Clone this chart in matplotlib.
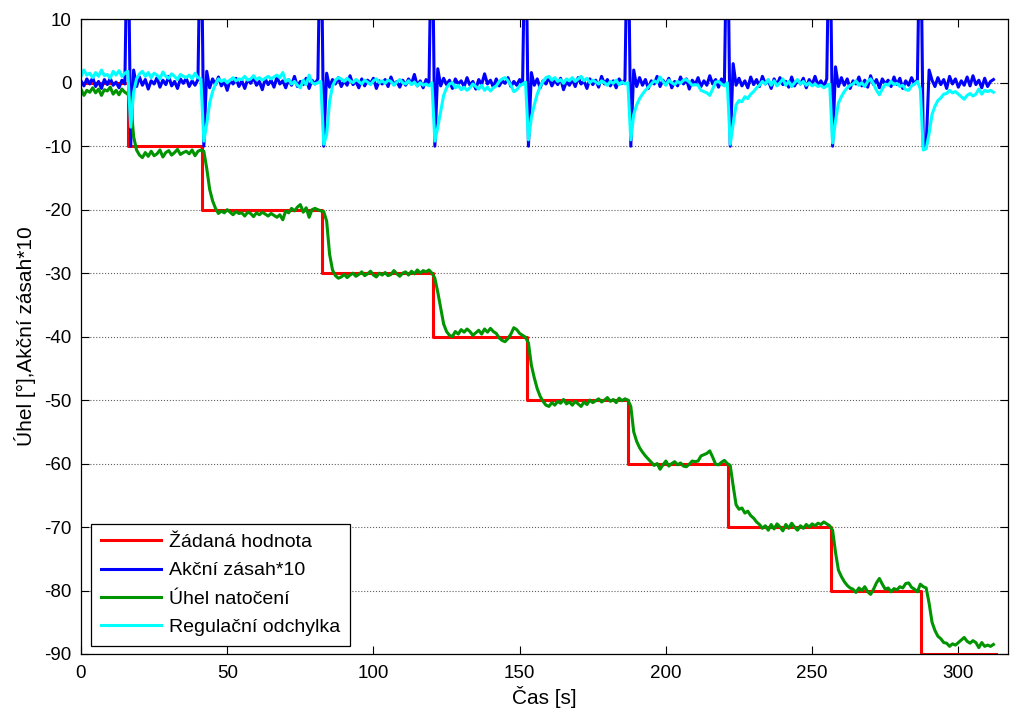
import numpy as np
import matplotlib.pyplot as plt

plt.rcParams['font.family'] = ['Liberation Sans', 'DejaVu Sans']
plt.rcParams['axes.unicode_minus'] = False

# setpoint steps (time [s], level [deg])
step_t = [0, 16.2, 41.5, 82.4, 120.3, 152.6, 187.1, 221.4, 256.5, 287.1, 312.8]
step_val = [0, -10, -20, -30, -40, -50, -60, -70, -80, -90, -90]

# measured angle, 1 s samples from t = 0
angle = [
    -1.0, -2.0, -1.2, -1.5, -0.8, -1.6, -1.0, -2.0, -1.1, -1.3, -0.7, -1.8, -1.2, -1.9, -1.0, -1.5, -1.8,
    -3.0, -8.5, -10.6, -11.4, -11.8, -11.0, -11.6, -10.8, -11.5, -11.2, -10.6, -11.7, -11.0, -10.7, -11.4,
    -11.0, -10.5, -11.3, -11.0, -10.8, -11.2, -10.6, -11.5, -10.8, -10.6,
    -10.8, -13.5, -16.8, -18.6, -19.8, -20.6, -20.2, -20.5, -20.0, -20.4, -20.8, -20.3, -20.6, -20.5, -21.0,
    -20.4, -20.6, -21.1, -20.5, -20.8, -20.4, -20.7, -21.0, -20.6, -20.9, -21.2, -20.8, -21.6, -20.2, -20.5,
    -19.8, -20.2, -19.6, -19.2, -20.4, -19.7, -21.2, -20.0, -19.8, -20.0, -20.2,
    -20.3, -21.8, -27.0, -29.5, -30.4, -30.8,
    -30.6, -30.2, -30.7, -30.3, -30.0, -30.5, -30.2, -29.8, -30.4, -30.1, -29.7, -30.3, -30.6, -30.0, -30.3,
    -29.9, -30.4, -30.2, -29.6, -30.1, -30.5, -30.0, -29.8, -30.3, -29.7, -30.1, -29.5, -30.0, -29.6, -29.8,
    -29.5, -30.0,
    -30.8, -33.0, -35.5, -38.0, -39.2, -39.8, -40.0, -39.2, -39.6, -38.9, -39.3, -38.8, -39.2, -39.8, -39.4,
    -39.0, -39.6, -38.8, -39.3, -38.7, -39.2, -39.5, -40.2, -40.6, -40.8, -40.3, -39.6, -38.6, -38.9, -39.5,
    -39.8, -40.1,
    -41.0, -44.5, -46.5, -48.2, -49.4, -50.2, -50.8, -51.0, -50.4, -50.8, -50.2, -50.5, -49.9, -50.6, -50.3,
    -50.8, -50.2, -50.6, -51.0, -50.3, -50.7, -50.0, -50.4, -50.1, -49.8, -50.3, -50.0, -49.6, -50.2, -49.9,
    -50.4, -49.7, -50.1, -49.8, -50.0,
    -51.0, -55.0, -56.5, -57.5, -58.2, -58.8, -59.3, -59.8, -60.3, -60.0, -60.9, -60.2, -59.6, -60.4, -60.0,
    -59.7, -60.2, -59.9, -60.4, -60.5, -60.1, -59.6, -59.7, -59.6, -58.8, -58.6, -58.4, -58.0, -59.0, -60.1,
    -60.2, -59.8, -59.5, -60.0,
    -60.3, -63.5, -66.5, -67.2, -67.0, -67.8, -67.5, -68.2, -68.6, -69.2, -69.6, -70.2, -69.8, -70.5, -69.6,
    -70.3, -69.5, -70.0, -70.6, -69.6, -70.2, -69.4, -70.0, -70.5, -69.8, -70.2, -69.6, -70.0, -69.5, -69.8,
    -69.4, -69.6, -69.2, -69.5, -69.8,
    -70.5, -74.0, -76.8, -77.8, -78.6, -79.2, -79.6, -79.8, -80.3, -79.6, -80.0, -79.4, -80.2, -80.6, -79.8,
    -78.8, -78.1, -79.0, -79.8, -79.6, -80.2, -79.7, -79.9, -79.4, -79.6, -78.9, -78.8, -79.5, -79.8, -80.2,
    -79.0,
    -79.4, -79.6, -82.0, -85.0, -86.3, -87.2, -87.6, -88.2, -88.3, -88.8, -88.4, -88.6, -88.2, -87.8, -87.4,
    -88.0, -88.3, -87.9, -88.2, -89.0, -88.2, -88.8, -88.6, -88.8, -88.5,
]

# control action * 10
action = [
    0.3, -0.5, 0.6, -0.2, 0.8, -0.6, 0.2, -0.9, 0.5, -0.3, 0.7, -0.4, 0.1, -0.8, 0.4, -0.2,
    30, -10, 2.0, -0.6,
    0.9, -0.4, 0.5, -1.0, 0.3, -0.2, 0.8, -0.7, 0.4, -0.3, 1.0, -0.5, 0.2, -0.9, 0.6, -0.1, 0.7, -0.6, 0.3,
    -0.4, 0.5,
    30, -10, 1.8, -0.8,
    0.6, -0.3, 0.9, -0.5, 0.2, -1.2, 0.4, -0.2, 0.7, -0.6, 0.3, -0.9, 0.5, -0.1, 0.8, -0.4, 0.2, -1.1, 0.6,
    -0.3, 0.4, -0.7, 0.9, -0.2, 0.3, -0.8, 0.5, -0.4, 1.0, -0.6, 0.2, -0.3, 0.7, -0.9, 0.4, -0.2, 0.6,
    30, -10, 1.5, -0.7,
    0.5, -0.2, 0.8, -0.6, 0.3, -0.4, 1.1, -0.3, 0.2, -0.8, 0.6, -0.5, 0.4, -0.1, 0.7, -0.9, 0.3, -0.2, 0.5,
    -0.6, 0.9, -0.3, 0.2, -0.7, 0.4, -0.4, 0.6, -0.2, 1.3, -0.5, 0.3, -0.8, 0.5, -0.3,
    30, -10, 2.2, -0.5,
    0.7, -0.3, 0.4, -0.9, 0.6, -0.2, 0.3, -0.6, 0.8, -0.4, 0.2, -1.0, 0.5, -0.3, 1.4, -0.2, 0.4, -0.7, 0.6,
    -0.5, 0.3, -0.1, 0.8, -0.6, 0.2, -0.4, 0.5, -0.2,
    30, -10, 1.6, -0.4,
    0.6, -0.8, 0.3, -0.2, 0.9, -0.5, 0.4, -0.3, 0.7, -1.1, 0.2, -0.4, 0.5, -0.6, 0.8, -0.2, 0.3, -0.9, 0.6,
    -0.3, 0.4, -0.7, 1.0, -0.2, 0.5, -0.5, 0.3, -0.8, 0.6, -0.1, 0.4,
    30, -10, 2.0, -0.6,
    0.8, -0.4, 0.5, -0.9, 0.3, -0.2, 1.0, -0.6, 0.4, -0.3, 0.7, -0.8, 0.2, -0.5, 0.9, -0.2, 0.6, -1.0, 0.4,
    -0.3, 0.8, -0.6, 0.3, -0.4, 1.1, -0.2, 0.5, -0.7, 0.6, -0.3,
    30, -10, 3.0, -0.4,
    0.7, -0.5, 0.3, -0.8, 0.9, -0.3, 0.5, -0.6, 1.0, -0.2, 0.4, -0.9, 0.6, -0.4, 0.8, -0.3, 0.2, -0.7, 0.9,
    -0.5, 0.4, -0.2, 0.7, -0.8, 0.5, -0.3, 1.0, -0.4, 0.3, -0.6, 0.6,
    30, -10, 2.5, -0.6,
    0.8, -0.4, 0.6, -0.9, 0.3, -0.2, 0.9, -0.5, 0.4, -0.7, 1.1, -0.3, 0.5, -0.8, 0.6, -0.2, 0.4, -0.6, 0.9,
    -0.3, 0.7, -0.9, 0.3, -0.4, 0.8, -0.2, 0.5,
    30, -10, -10, 2.0,
    0.4, -0.6, 0.8, -0.3, 0.5, -0.9, 1.0, -0.2, 0.6, -0.7, 0.3, -0.4, 0.9, -0.5, 1.1, -0.3, 0.4, -0.8, 0.7,
    -0.6, 0.2, 0.5,
]

# control error
error = [
    1.0, 2.0, 1.2, 1.5, 0.8, 1.6, 1.0, 2.0, 1.1, 1.3, 0.7, 1.8, 1.2, 1.9, 1.0, 1.5, 1.8,
    -7.0, -1.5, 0.6, 1.4, 1.8, 1.0, 1.6, 0.8, 1.5, 1.2, 0.6, 1.7, 1.0, 0.7, 1.4, 1.0, 0.5, 1.3, 1.0, 0.8,
    1.2, 0.6, 1.5, 0.8, 0.6,
    -9.2, -6.5, -3.2, -1.4, -0.2, 0.6, 0.2, 0.5, 0.0, 0.4, 0.8, 0.3, 0.6, 0.5, 1.0, 0.4, 0.6, 1.1, 0.5, 0.8,
    0.4, 0.7, 1.0, 0.6, 0.9, 1.2, 0.8, 1.6, 0.2, 0.5, -0.2, 0.2, -0.4, -0.8, 0.4, -0.3, 1.2, 0.0, -0.2, 0.0,
    0.2,
    -9.7, -8.2, -3.0, -0.5, 0.4, 0.8,
    0.6, 0.2, 0.7, 0.3, 0.0, 0.5, 0.2, -0.2, 0.4, 0.1, -0.3, 0.3, 0.6, 0.0, 0.3, -0.1, 0.4, 0.2, -0.4, 0.1,
    0.5, 0.0, -0.2, 0.3, -0.3, 0.1, -0.5, 0.0, -0.4, -0.2, -0.5, 0.0,
    -9.2, -7.0, -4.5, -2.0, -0.8, -0.2, 0.0, -0.8, -0.4, -1.1, -0.7, -1.2, -0.8, -0.2, -0.6, -1.0, -0.4,
    -1.2, -0.7, -1.3, -0.8, -0.5, 0.2, 0.6, 0.8, 0.3, -0.4, -1.4, -1.1, -0.5, -0.2, 0.1,
    -9.0, -5.5, -3.5, -1.8, -0.6, 0.2, 0.8, 1.0, 0.4, 0.8, 0.2, 0.5, -0.1, 0.6, 0.3, 0.8, 0.2, 0.6, 1.0,
    0.3, 0.7, 0.0, 0.4, 0.1, -0.2, 0.3, 0.0, -0.4, 0.2, -0.1, 0.4, -0.3, 0.1, -0.2, 0.0,
    -9.0, -5.0, -3.5, -2.5, -1.8, -1.2, -0.7, -0.2, 0.3, 0.0, 0.9, 0.2, -0.4, 0.4, 0.0, -0.3, 0.2, -0.1,
    0.4, 0.5, 0.1, -0.4, -0.3, -0.4, -1.2, -1.4, -1.6, -2.0, -1.0, 0.1, 0.2, -0.2, -0.5, 0.0,
    -9.7, -6.5, -3.5, -2.8, -3.0, -2.2, -2.5, -1.8, -1.4, -0.8, -0.4, 0.2, -0.2, 0.5, -0.4, 0.3, -0.5, 0.0,
    0.6, -0.4, 0.2, -0.6, 0.0, 0.5, -0.2, 0.2, -0.4, 0.0, -0.5, -0.2, -0.6, -0.4, -0.8, -0.5, -0.2,
    -9.5, -6.0, -3.2, -2.2, -1.4, -0.8, -0.4, -0.2, 0.3, -0.4, 0.0, -0.6, 0.2, 0.6, -0.2, -1.2, -1.9, -1.0,
    -0.2, -0.4, 0.2, -0.3, -0.1, -0.6, -0.4, -1.1, -1.2, -0.5, -0.2, 0.2, -1.0,
    -10.6, -10.4, -8.0, -5.0, -3.7, -2.8, -2.4, -1.8, -1.7, -1.2, -1.6, -1.4, -1.8, -2.2, -2.6, -2.0, -1.7,
    -2.1, -1.8, -1.0, -1.8, -1.2, -1.4, -1.2, -1.5,
]

t = np.arange(len(angle), dtype=float)

fig = plt.figure(figsize=(10.11, 7.10), dpi=100)
ax = fig.add_axes([0.0801, 0.0789, 0.917, 0.894])

lw = 2.2
ax.plot(step_t, step_val, color='#ff0000', lw=lw, drawstyle='steps-post', label='Žádaná hodnota')
ax.plot(t, action, color='#0000ff', lw=lw, label='Akční zásah*10')
ax.plot(t, angle, color='#009400', lw=lw, label='Úhel natočení')
ax.plot(t, error, color='#00ffff', lw=lw, label='Regulační odchylka')

ax.set_xlim(0, 317)
ax.set_ylim(-90, 10)
ax.set_xticks(np.arange(0, 301, 50))
ax.set_yticks(np.arange(-90, 11, 10))
ax.yaxis.grid(True, linestyle=':', color='#606060', lw=0.8)
ax.set_axisbelow(True)
ax.tick_params(direction='in', top=True, right=True, length=6, labelsize=13.5)
ax.tick_params(axis='x', pad=8)
ax.tick_params(axis='y', pad=7)
for s in ax.spines.values():
    s.set_linewidth(0.9)

ax.set_xlabel('Čas [s]', fontsize=15, labelpad=3)
ax.set_ylabel('Úhel [°],Akční zásah*10', fontsize=15, labelpad=6)

leg = ax.legend(loc='lower left', bbox_to_anchor=(0.011, 0.013), borderaxespad=0,
                fancybox=False, framealpha=1, edgecolor='black', fontsize=14,
                handlelength=3.1, handletextpad=0.4, labelspacing=0.55, borderpad=0.5)
leg.get_frame().set_linewidth(0.9)

fig.savefig('out.png', dpi=100)
